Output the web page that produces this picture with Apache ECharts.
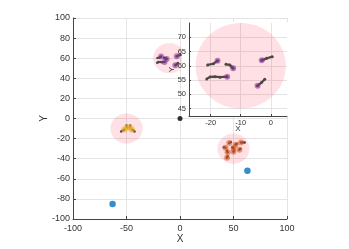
<!DOCTYPE html>
<html><head><meta charset="utf-8">
<script src="https://cdn.jsdelivr.net/npm/echarts@6/dist/echarts.min.js"></script>
<style>html,body{margin:0;padding:0;background:#fff}#c{width:349px;height:249px}</style>
</head><body><div id="c"></div>
<script>
// ---- data ----
const circleCenters = [[-50, -10], [-10, 60], [50, -30]];
const circleRadius = 15;
const insetCircle = [[-10, 60]];
const originPoint = [[0, 0]];
const bluePoints = [[-63, -85], [63, -52]];
// trajectories: last point of each is the marker head
const yellowTracks = [
  [[-55, -13], [-53.5, -12], [-52, -11]],
  [[-50, -7], [-49.5, -9]],
  [[-46.5, -7], [-47, -9]],
  [[-42.5, -13], [-43.5, -12], [-45, -11]]
];
const redTracks = [
  [[47.5, -23.5], [46, -24.5]],
  [[53, -25], [52, -26]],
  [[41, -28.5], [42.5, -29]],
  [[49, -28.5], [50, -29.5]],
  [[56.5, -30], [55.5, -31]],
  [[44, -32], [44.5, -33.5]],
  [[50.5, -32], [50, -33]],
  [[44.5, -37.5], [44, -39]],
  [[60.5, -24], [59, -24], [57, -24]]
];
const purpleTracks = [
  [[-21.0, 60.3], [-19.1, 60.7], [-17.7, 61.8]],
  [[-14.9, 60.5], [-13.6, 60.3], [-13.0, 59.7], [-12.5, 59.1]],
  [[-21.3, 55.4], [-20.2, 56.1], [-18.6, 56.2], [-16.9, 56.0], [-14.5, 56.2]],
  [[0.5, 63.2], [-1.4, 62.6], [-3.0, 61.9]],
  [[-2.0, 55.3], [-3.1, 54.1], [-4.4, 53.0]]
];
const mainXRange = [-100, 100];
const mainYRange = [-100, 100];
const insetXRange = [-27.2, 5.4];
const insetYRange = [42.4, 75.0];
const insetXTicks = [-20, -10, 0];
const insetYTicks = [45, 50, 55, 60, 65, 70];

// ---- styles ----
const pink = 'rgba(255,0,30,0.12)';
const trackColor = '#4f4848';
const purple = 'rgba(126,47,142,0.7)';
const red = 'rgba(217,83,25,0.7)';
const yellow = 'rgba(237,177,32,0.8)';
const blue = '#0072BD';
const axisCol = '#444';
const gridCol = '#e4e4e4';
const txtCol = '#333';
const FONT = 'Liberation Sans, Arial, sans-serif';

function circleRender(params, api) {
  const cx = api.value(0), cy = api.value(1), r = api.value(2);
  const pts = [];
  for (let i = 0; i < 90; i++) {
    const a = i / 90 * 2 * Math.PI;
    pts.push(api.coord([cx + r * Math.cos(a), cy + r * Math.sin(a)]));
  }
  return { type: 'polygon', shape: { points: pts }, style: { fill: pink } };
}

function trackSeries(tracks, xi, yi, z, w, s) {
  return tracks.map(t => ({
    type: 'line', xAxisIndex: xi, yAxisIndex: yi, data: t, z: z,
    symbol: 'circle', symbolSize: s, showSymbol: true,
    lineStyle: { color: trackColor, width: w },
    itemStyle: { color: trackColor }, silent: true
  }));
}
function headSeries(tracks, color, xi, yi, z) {
  return {
    type: 'scatter', xAxisIndex: xi, yAxisIndex: yi, z: z,
    data: tracks.map(t => t[t.length - 1]),
    symbolSize: 6, itemStyle: { color: color }, silent: true
  };
}

const chart = echarts.init(document.getElementById('c'), null, { renderer: 'canvas' });
const series = [];
series.push({
  type: 'custom', xAxisIndex: 0, yAxisIndex: 0, z: 1, silent: true,
  renderItem: circleRender,
  data: circleCenters.map(c => [c[0], c[1], circleRadius])
});
series.push(...trackSeries(yellowTracks, 0, 0, 2, 1.5, 2.5));
series.push(...trackSeries(redTracks, 0, 0, 2, 1.5, 2.5));
series.push(...trackSeries(purpleTracks, 0, 0, 2, 1.5, 2.5));
series.push(headSeries(yellowTracks, yellow, 0, 0, 3));
series.push(headSeries(redTracks, red, 0, 0, 3));
series.push(headSeries(purpleTracks, purple, 0, 0, 3));
series.push({ type: 'scatter', xAxisIndex: 0, yAxisIndex: 0, z: 3, data: originPoint, symbolSize: 5, itemStyle: { color: '#000' } });
series.push({ type: 'scatter', xAxisIndex: 0, yAxisIndex: 0, z: 3, data: bluePoints, symbolSize: 6.5, itemStyle: { color: blue } });
// inset
series.push({
  type: 'custom', xAxisIndex: 1, yAxisIndex: 1, z: 7, silent: true,
  renderItem: circleRender,
  data: insetCircle.map(c => [c[0], c[1], circleRadius])
});
series.push(...trackSeries(purpleTracks, 1, 1, 8, 2.2, 3));
series.push(headSeries(purpleTracks, purple, 1, 1, 9));

const mainAxisCommon = {
  nameMoveOverlap: false,
  axisLine: { show: true, onZero: false, lineStyle: { color: axisCol, width: 1 } },
  axisTick: { show: true, inside: true, length: 3, lineStyle: { color: axisCol } },
  splitLine: { show: true, lineStyle: { color: gridCol, width: 1 } },
  nameTextStyle: { color: txtCol, fontSize: 10, fontFamily: FONT }
};

const option = {
  animation: false,
  backgroundColor: '#fff',
  grid: [
    { left: 73, top: 18, width: 214, height: 203, containLabel: false },
    { left: 189, top: 23, width: 98, height: 93, containLabel: false }
  ],
  xAxis: [
    Object.assign({}, mainAxisCommon, {
      gridIndex: 0, type: 'value', min: mainXRange[0], max: mainXRange[1], interval: 50,
      name: 'X', nameLocation: 'middle', nameGap: 15,
      axisLabel: { color: txtCol, fontSize: 9, fontFamily: FONT, margin: 5 }
    }),
    {
      gridIndex: 1, type: 'value', min: insetXRange[0], max: insetXRange[1], z: 6,
      name: 'X', nameLocation: 'middle', nameGap: 9, nameMoveOverlap: false,
      nameTextStyle: { color: txtCol, fontSize: 8, fontFamily: FONT },
      axisLine: { show: true, onZero: false, lineStyle: { color: axisCol, width: 1 } },
      axisTick: { show: true, inside: true, length: 2, customValues: insetXTicks, lineStyle: { color: axisCol } },
      axisLabel: { color: txtCol, fontSize: 7.5, fontFamily: FONT, margin: 3, customValues: insetXTicks },
      splitLine: { show: true, lineStyle: { color: gridCol, width: 1 } }
    }
  ],
  yAxis: [
    Object.assign({}, mainAxisCommon, {
      gridIndex: 0, type: 'value', min: mainYRange[0], max: mainYRange[1], interval: 20,
      name: 'Y', nameLocation: 'middle', nameGap: 24,
      axisLabel: { color: txtCol, fontSize: 9, fontFamily: FONT, margin: 3 }
    }),
    {
      gridIndex: 1, type: 'value', min: insetYRange[0], max: insetYRange[1], z: 6,
      name: 'Y', nameLocation: 'middle', nameGap: 13, nameMoveOverlap: false,
      nameTextStyle: { color: txtCol, fontSize: 8, fontFamily: FONT },
      axisLine: { show: true, onZero: false, lineStyle: { color: axisCol, width: 1 } },
      axisTick: { show: true, inside: true, length: 2, customValues: insetYTicks, lineStyle: { color: axisCol } },
      axisLabel: { color: txtCol, fontSize: 7.5, fontFamily: FONT, margin: 3, customValues: insetYTicks },
      splitLine: { show: true, lineStyle: { color: gridCol, width: 1 } }
    }
  ],
  graphic: [
    { type: 'rect', z: 5, silent: true, shape: { x: 182, y: 22, width: 106, height: 95 }, style: { fill: '#fff' } }
  ],
  series: series
};
chart.setOption(option);
</script>
</body></html>
